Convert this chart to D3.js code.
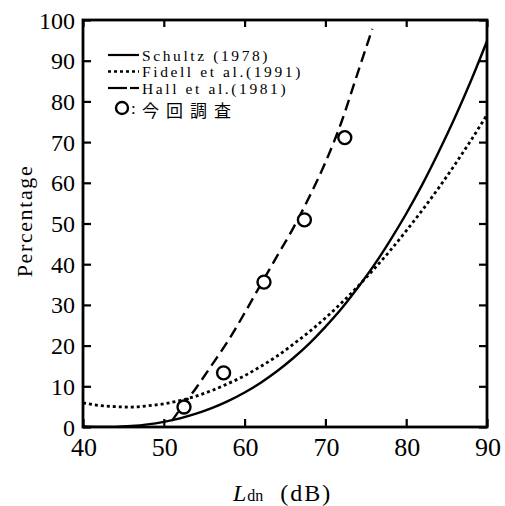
<!DOCTYPE html>
<html><head><meta charset="utf-8">
<script src="https://cdn.jsdelivr.net/npm/d3@7"></script>
<style>body{margin:0;background:#fff}svg{display:block}</style>
</head><body>
<script>
// ---- data ----
const ldnGrid = [40,42,44,46,48,50,52,54,56,58,60,62,64,66,68,70,72,74,76,78,80,82,84,86,88,90];
const schultz = [0.13,0.01,0.04,0.24,0.64,1.27,2.13,3.26,4.68,6.41,8.48,10.9,13.7,16.9,20.5,24.6,29.1,34.2,39.7,45.8,52.4,59.6,67.5,75.9,85.0,94.8];
const fidell = [5.9,5.3,5.0,4.9,5.2,5.7,6.5,7.6,9.0,10.7,12.6,14.9,17.4,20.3,23.4,26.8,30.5,34.5,38.8,43.3,48.2,53.3,58.7,64.4,70.4,76.7];
const hallLdn = [51,52,54,56,58,60,62,64,66,68,70,72,74,75.8];
const hall = [1.5,4.3,9.6,15.4,21.3,28.0,35.0,41.9,48.8,56.5,65.0,75.0,87.0,97.8];
const surveyLdn = [52.5,57.4,62.4,67.4,72.4];
const survey = [4.9,13.3,35.6,50.9,71.1];
const xTicks = [40,50,60,70,80,90];
const yTicks = [0,10,20,30,40,50,60,70,80,90,100];
const legendLabels = ["Schultz (1978)","Fidell et al.(1991)","Hall et al.(1981)"];
const surveyLabel = "今回調査";

const W=505,H=506;
const svg=d3.select("body").append("svg").attr("width",W).attr("height",H);
const x=d3.scaleLinear().domain([40,90]).range([83,487]);
const y=d3.scaleLinear().domain([0,100]).range([427,20]);
const serif="Liberation Serif";

svg.append("clipPath").attr("id","c").append("rect")
  .attr("x",x(40)).attr("y",y(100)).attr("width",x(90)-x(40)).attr("height",y(0)-y(100));

const line=d3.line().x(d=>x(d[0])).y(d=>y(d[1])).curve(d3.curveMonotoneX);
const g=svg.append("g").attr("clip-path","url(#c)");
g.append("path").datum(ldnGrid.map((l,i)=>[l,schultz[i]])).attr("d",line)
  .attr("fill","none").attr("stroke","#000").attr("stroke-width",2.4);
g.append("path").datum(ldnGrid.map((l,i)=>[l,fidell[i]])).attr("d",line)
  .attr("fill","none").attr("stroke","#000").attr("stroke-width",2.8).attr("stroke-dasharray","3,3");
g.append("path").datum(hallLdn.map((l,i)=>[l,hall[i]])).attr("d",line)
  .attr("fill","none").attr("stroke","#000").attr("stroke-width",2.4).attr("stroke-dasharray","11,6");

svg.selectAll("circle.pt").data(surveyLdn.map((l,i)=>[l,survey[i]])).enter().append("circle")
  .attr("class","pt").attr("cx",d=>x(d[0])).attr("cy",d=>y(d[1])).attr("r",6.5)
  .attr("fill","#fff").attr("stroke","#000").attr("stroke-width",2.4);

function styleAxis(sel){sel.select(".domain").remove();sel.selectAll("line").attr("stroke","#000").attr("stroke-width",2.2);}
svg.append("g").attr("transform",`translate(0,${y(0)})`)
  .call(d3.axisTop(x).tickValues(xTicks).tickSize(8).tickFormat(""))
  .call(styleAxis);
svg.append("g").attr("transform",`translate(0,${y(100)})`)
  .call(d3.axisBottom(x).tickValues(xTicks).tickSize(7).tickFormat(""))
  .call(styleAxis);
svg.append("g").attr("transform",`translate(${x(40)},0)`)
  .call(d3.axisRight(y).tickValues(yTicks).tickSize(8).tickFormat(""))
  .call(styleAxis);
svg.append("g").attr("transform",`translate(${x(90)},0)`)
  .call(d3.axisLeft(y).tickValues(yTicks).tickSize(8).tickFormat(""))
  .call(styleAxis);
svg.append("rect").attr("x",x(40)).attr("y",y(100)).attr("width",x(90)-x(40)).attr("height",y(0)-y(100))
  .attr("fill","none").attr("stroke","#000").attr("stroke-width",2.8);

// tick labels
svg.append("g").selectAll("text").data(yTicks).enter().append("text")
  .attr("x",75).attr("y",d=>y(d)+8.5).attr("text-anchor","end")
  .attr("font-family",serif).attr("font-size",24).text(d=>d);
svg.append("g").selectAll("text").data(xTicks).enter().append("text")
  .attr("x",d=>x(d)+1).attr("y",456).attr("text-anchor","middle")
  .attr("font-family",serif).attr("font-size",26).text(d=>d);

// axis titles
svg.append("text").attr("transform","translate(32,221) rotate(-90)").attr("text-anchor","middle")
  .attr("font-family",serif).attr("font-size",22).attr("letter-spacing",1.6).text("Percentage");
const xt=svg.append("text").attr("x",233).attr("y",501).attr("font-family",serif).attr("font-size",24);
xt.append("tspan").attr("font-style","italic").text("L");
xt.append("tspan").attr("font-size",16).attr("dx",1).text("dn");
xt.append("tspan").attr("dx",17).attr("letter-spacing",2).text("(dB)");

// legend
const legY=[55,71.5,88];
legendLabels.forEach((lab,i)=>{
  if(i===2){
    svg.append("line").attr("x1",108).attr("x2",127).attr("y1",legY[i]).attr("y2",legY[i]).attr("stroke","#000").attr("stroke-width",2.2);
    svg.append("line").attr("x1",130).attr("x2",139).attr("y1",legY[i]).attr("y2",legY[i]).attr("stroke","#000").attr("stroke-width",2.2);
  } else {
    const l=svg.append("line").attr("x1",108).attr("x2",139).attr("y1",legY[i]).attr("y2",legY[i])
      .attr("stroke","#000").attr("stroke-width",i===1?2.6:2.2);
    if(i===1) l.attr("stroke-dasharray","3,3");
  }
  svg.append("text").attr("x",142).attr("y",legY[i]+5.5).attr("font-family",serif)
    .attr("font-size",15.5).attr("letter-spacing",2.6).text(lab);
});
svg.append("circle").attr("cx",122).attr("cy",108).attr("r",6).attr("fill","#fff").attr("stroke","#000").attr("stroke-width",2.4);
svg.append("text").attr("x",131).attr("y",113.5).attr("font-family",serif).attr("font-size",17).text(":");
svg.append("text").attr("x",142).attr("y",117).attr("font-family","Noto Sans CJK JP")
  .attr("font-size",17).attr("letter-spacing",7).text(surveyLabel);
</script>
</body></html>
